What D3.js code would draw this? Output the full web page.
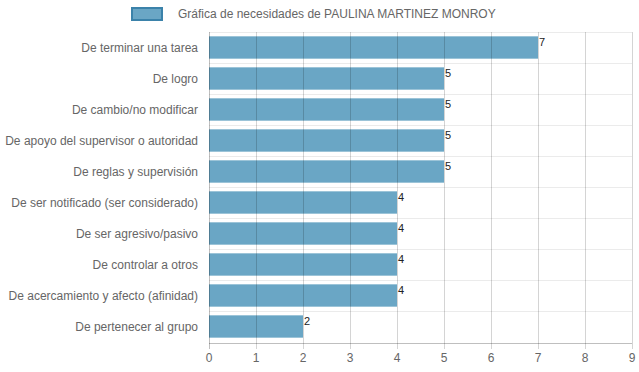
<!DOCTYPE html>
<html>
<head>
<meta charset="utf-8">
<script src="https://cdnjs.cloudflare.com/ajax/libs/d3/7.8.5/d3.min.js"></script>
<style>
  body { margin: 0; background: #fff; }
  text { font-family: "Liberation Sans", Arial, sans-serif; }
</style>
</head>
<body>
<div id="chart"></div>
<script>
// Data.
var categories = ["De terminar una tarea", "De logro", "De cambio/no modificar",
                  "De apoyo del supervisor o autoridad", "De reglas y supervisión",
                  "De ser notificado (ser considerado)", "De ser agresivo/pasivo",
                  "De controlar a otros", "De acercamiento y afecto (afinidad)",
                  "De pertenecer al grupo"];
var values     = [7, 5, 5, 5, 5, 4, 4, 4, 4, 2];
var xTicks     = [0, 1, 2, 3, 4, 5, 6, 7, 8, 9];
var legendText = "Gráfica de necesidades de PAULINA MARTINEZ MONROY";

var width = 639, height = 372;
// note: 'top' is reserved on window, so use plot* names.
var plotLeft = 209, plotRight = 632, plotTop = 32, plotBottom = 342;

var svg = d3.select("#chart").append("svg")
    .attr("width", width)
    .attr("height", height);

var x = d3.scaleLinear().domain([0, 9]).range([plotLeft, plotRight]);
var yBand = d3.scaleBand().domain(categories).range([plotTop, plotBottom]);
var y = d3.scaleBand().domain(categories).range([plotTop, plotBottom])
    .paddingInner(0.28).paddingOuter(0.14);

// Horizontal grid lines at category boundaries.
svg.selectAll("line.hgrid")
    .data(categories).enter().append("line")
    .attr("x1", plotLeft).attr("x2", plotRight)
    .attr("y1", function(d) { return Math.round(yBand(d)) + 0.5; })
    .attr("y2", function(d) { return Math.round(yBand(d)) + 0.5; })
    .attr("stroke", "#ebebeb");

// Bars.
svg.selectAll("rect.bar")
    .data(values).enter().append("rect")
    .attr("x", x(0))
    .attr("y", function(d, i) { return y(categories[i]); })
    .attr("width", function(d) { return x(d) - x(0); })
    .attr("height", y.bandwidth())
    .attr("fill", "#6aa6c5");

// Vertical grid lines (drawn over the bars, semi transparent).
svg.selectAll("line.vgrid")
    .data(xTicks).enter().append("line")
    .attr("x1", function(d) { return Math.round(x(d)) + 0.5; })
    .attr("x2", function(d) { return Math.round(x(d)) + 0.5; })
    .attr("y1", plotTop).attr("y2", plotBottom + 7)
    .attr("stroke", function(d) { return d === 0 ? "rgba(0,0,0,0.25)" : "rgba(0,0,0,0.17)"; });

// Axis line.
svg.append("line")
    .attr("x1", plotLeft).attr("x2", plotRight)
    .attr("y1", plotBottom + 1.5).attr("y2", plotBottom + 1.5)
    .attr("stroke", "rgba(0,0,0,0.25)");

// X tick labels.
svg.selectAll("text.xtick")
    .data(xTicks).enter().append("text")
    .attr("x", function(d) { return x(d); })
    .attr("y", 362)
    .attr("text-anchor", "middle")
    .attr("font-size", 12)
    .attr("fill", "#666")
    .text(function(d) { return d; });

// Category labels.
svg.selectAll("text.cat")
    .data(categories).enter().append("text")
    .attr("x", 198)
    .attr("y", function(d) { return yBand(d) + yBand.bandwidth() / 2 + 4; })
    .attr("text-anchor", "end")
    .attr("font-size", 12)
    .attr("fill", "#666")
    .text(function(d) { return d; });

// Value labels at bar end.
svg.selectAll("text.val")
    .data(values).enter().append("text")
    .attr("x", function(d) { return x(d) + 1; })
    .attr("y", function(d, i) { return y(categories[i]) + 10; })
    .attr("font-size", 11)
    .attr("fill", "#222")
    .text(function(d) { return d; });

// Legend.
svg.append("rect")
    .attr("x", 132).attr("y", 8)
    .attr("width", 30).attr("height", 12)
    .attr("fill", "#6aa6c5")
    .attr("stroke", "#3b82aa")
    .attr("stroke-width", 2);
svg.append("text")
    .attr("x", 178).attr("y", 18)
    .attr("font-size", 12)
    .attr("fill", "#666")
    .text(legendText);
</script>
</body>
</html>
